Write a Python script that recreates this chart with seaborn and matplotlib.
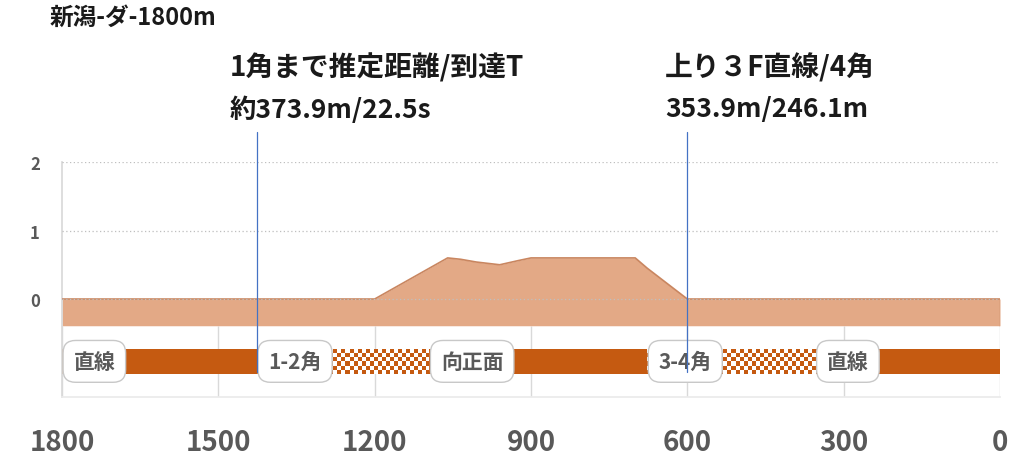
import numpy as np
import matplotlib
matplotlib.use("Agg")
import matplotlib.pyplot as plt
import seaborn as sns

# course profile (distance to goal, elevation)
dist = [1800, 1200, 1060, 1035, 1005, 960, 925, 900, 700, 677, 600, 0]
elev = [0, 0, 0.6, 0.58, 0.54, 0.5, 0.56, 0.6, 0.6, 0.45, 0, 0]

# course sections
seg_names = ["直線", "1-2角", "向正面", "3-4角", "直線"]
seg_start = [1800, 1426.1, 1095, 677, 353.9]
seg_end = [1426.1, 1095, 677, 353.9, 0]
seg_curve = [False, True, False, True, False]

# marker lines
marks = [1426.1, 600]

title = "新潟-ダ-1800m"
note1 = ["1角まで推定距離/到達T", "約373.9m/22.5s"]
note2 = ["上り３F直線/4角", "353.9m/246.1m"]

xticks = [1800, 1500, 1200, 900, 600, 300, 0]
yticks = [0, 1, 2]

sns.set_theme(style="white")
plt.rcParams["font.family"] = ["Noto Sans CJK JP", "DejaVu Sans"]
plt.rcParams["font.weight"] = "bold"

FILL = "#E3A986"
EDGE = "#C98660"
BAR = "#C55A11"
GRAY = "#595959"
base = -0.39
bar_lo, bar_hi = -1.09, -0.73

fig = plt.figure(figsize=(10.24, 4.64), dpi=100)
ax = fig.add_axes([62 / 1024, 1 - 398 / 464, 938 / 1024, 235 / 464])

# elevation area
ax.fill_between(dist, base, elev, color=FILL, lw=0, zorder=2)
sns.lineplot(x=dist, y=elev, ax=ax, color=EDGE, lw=1.2, sort=False,
             estimator=None, zorder=3)
ax.plot([0, 0], [base, 0], color=EDGE, lw=1, zorder=3)

# dotted gridlines
for yv in yticks:
    ax.axhline(yv, color="#BFBFBF", ls=(0, (1, 2)), lw=0.9, zorder=4)
ax.vlines(xticks, -1.43, base, color="#D9D9D9", lw=1, zorder=1)

# section bars
for name, s, e, curve in zip(seg_names, seg_start, seg_end, seg_curve):
    if curve:
        ncol = max(1, int(round((s - e) / 7.7)))
        nrow = 6
        board = (np.add.outer(np.arange(nrow), np.arange(ncol)) % 2)
        img = np.where(board[..., None] == 1,
                       np.array([197, 90, 17]) / 255, np.array([1.0, 1.0, 1.0]))
        ax.imshow(img, extent=(s, e, bar_lo, bar_hi), aspect="auto",
                  interpolation="nearest", zorder=2)
    else:
        ax.barh((bar_lo + bar_hi) / 2, e - s, left=s, height=bar_hi - bar_lo,
                color=BAR, lw=0, zorder=2)
    ax.text(s - 22, (bar_lo + bar_hi) / 2, name, ha="left", va="center",
            fontsize=15, color=GRAY, fontweight="bold", zorder=5,
            bbox=dict(boxstyle="round,pad=0.5,rounding_size=0.6", fc="white",
                      ec="#C8C8C8", lw=1))

for m in marks:
    ax.plot([m, m], [-1.07, 2.44], color="#4472C4", lw=0.9, zorder=6,
            clip_on=False)

ax.set_xlim(1800, 0)
ax.set_ylim(-1.43, 2)
ax.set_xticks(xticks)
ax.set_xticklabels([str(v) for v in xticks], fontsize=20, color=GRAY,
                   fontweight="bold")
ax.set_yticks(yticks)
ax.set_yticklabels([str(v) for v in yticks], fontsize=12, color=GRAY,
                   fontweight="bold")
ax.tick_params(axis="x", length=0, pad=22)
ax.tick_params(axis="y", length=0, pad=16)
for side in ["top", "right"]:
    ax.spines[side].set_visible(False)
ax.spines["left"].set_color("#D9D9D9")
ax.spines["bottom"].set_color("#EBEBEB")
ax.set_xlabel("")
ax.set_ylabel("")

fig.text(50 / 1024, 1 - 18 / 464, title, fontsize=17, fontweight="bold",
         color="#1A1A1A", va="center", ha="left")
fig.text(230 / 1024, 1 - 68 / 464, note1[0], fontsize=20, fontweight="bold",
         color="#1A1A1A", va="center", ha="left")
fig.text(230 / 1024, 1 - 110 / 464, note1[1], fontsize=19, fontweight="bold",
         color="#1A1A1A", va="center", ha="left")
fig.text(665 / 1024, 1 - 68 / 464, note2[0], fontsize=20, fontweight="bold",
         color="#1A1A1A", va="center", ha="left")
fig.text(665 / 1024, 1 - 110 / 464, note2[1], fontsize=19, fontweight="bold",
         color="#1A1A1A", va="center", ha="left")

fig.savefig("out.png", dpi=100)
